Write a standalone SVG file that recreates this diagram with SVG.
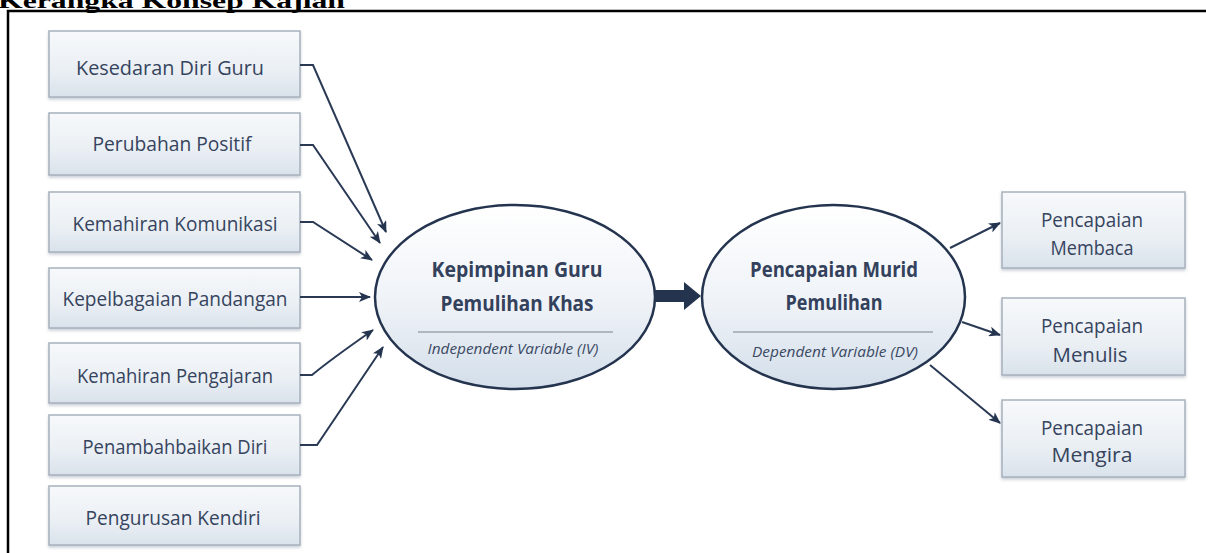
<svg xmlns="http://www.w3.org/2000/svg" width="1206" height="553" viewBox="0 0 1206 553">
<defs>
<linearGradient id="boxg" x1="0" y1="0" x2="0" y2="1">
<stop offset="0" stop-color="#f7f9fb"/>
<stop offset="0.6" stop-color="#eaeff4"/>
<stop offset="1" stop-color="#d9e2eb"/>
</linearGradient>
<linearGradient id="ellg" x1="0" y1="0" x2="0" y2="1">
<stop offset="0" stop-color="#ffffff"/>
<stop offset="0.55" stop-color="#eef2f7"/>
<stop offset="1" stop-color="#d3deea"/>
</linearGradient>
<filter id="sh" x="-10%" y="-10%" width="120%" height="130%">
<feDropShadow dx="0" dy="2" stdDeviation="1.5" flood-color="#8a97a6" flood-opacity="0.45"/>
</filter>
<marker id="ah" viewBox="0 0 12 10" refX="11" refY="5" markerWidth="12" markerHeight="10" markerUnits="userSpaceOnUse" orient="auto">
<path d="M0,0 L12,5 L0,10 L3,5 Z" fill="#24344f"/>
</marker>
</defs>
<style>
.box{fill:url(#boxg);stroke:#a7b1bd;stroke-width:1.5;filter:url(#sh)}
.ell{fill:url(#ellg);stroke:#24344f;stroke-width:2.5}
.lbl{font-family:"Open Sans","Noto Sans",sans-serif;font-size:20px;font-weight:500;fill:#36445e;text-anchor:middle}
.big{font-family:"Open Sans","Noto Sans",sans-serif;font-size:22px;font-weight:bold;fill:#33415c;text-anchor:middle}
.it{font-family:"Open Sans","Noto Sans",sans-serif;font-size:14px;font-style:italic;fill:#3b4963;text-anchor:middle}
.sep{stroke:#a0a6ae;stroke-width:1.5}
.con{fill:none;stroke:#2a3a55;stroke-width:2;marker-end:url(#ah)}
.title{font-family:"Liberation Serif",serif;font-size:22px;font-weight:bold;fill:#000}
</style>
<rect width="1206" height="553" fill="#ffffff"/>
<text class="title" x="-2" y="8" textLength="347" lengthAdjust="spacingAndGlyphs">Kerangka Konsep Kajian</text>
<path d="M8,553 V11 H1206" fill="none" stroke="#000" stroke-width="2.5"/>

<g id="n1"><rect class="box" x="49" y="31" width="251" height="66"/><text class="lbl" x="170" y="75" textLength="188" lengthAdjust="spacingAndGlyphs">Kesedaran Diri Guru</text></g>
<g id="n2"><rect class="box" x="49" y="113" width="251" height="62"/><text class="lbl" x="172" y="151" textLength="159" lengthAdjust="spacingAndGlyphs">Perubahan Positif</text></g>
<g id="n3"><rect class="box" x="49" y="192" width="251" height="60"/><text class="lbl" x="175" y="231" textLength="205" lengthAdjust="spacingAndGlyphs">Kemahiran Komunikasi</text></g>
<g id="n4"><rect class="box" x="49" y="268" width="251" height="60"/><text class="lbl" x="175" y="306" textLength="225" lengthAdjust="spacingAndGlyphs">Kepelbagaian Pandangan</text></g>
<g id="n5"><rect class="box" x="49" y="343" width="251" height="60"/><text class="lbl" x="175" y="383" textLength="196" lengthAdjust="spacingAndGlyphs">Kemahiran Pengajaran</text></g>
<g id="n6"><rect class="box" x="49" y="415" width="251" height="60"/><text class="lbl" x="175" y="454" textLength="185" lengthAdjust="spacingAndGlyphs">Penambahbaikan Diri</text></g>
<g id="n7"><rect class="box" x="49" y="486" width="251" height="59"/><text class="lbl" x="173" y="525" textLength="175" lengthAdjust="spacingAndGlyphs">Pengurusan Kendiri</text></g>

<g id="iv">
<ellipse class="ell" cx="515" cy="297" rx="140" ry="92"/>
<text class="big" x="517" y="277" textLength="171" lengthAdjust="spacingAndGlyphs">Kepimpinan Guru</text>
<text class="big" x="517" y="311" textLength="153" lengthAdjust="spacingAndGlyphs">Pemulihan Khas</text>
<line class="sep" x1="418" y1="332" x2="613" y2="332"/>
<text class="it" x="513" y="354" textLength="171" lengthAdjust="spacingAndGlyphs">Independent Variable (IV)</text>
</g>

<g id="dv">
<ellipse class="ell" cx="833.5" cy="297" rx="131.5" ry="92"/>
<text class="big" x="834" y="277" textLength="168" lengthAdjust="spacingAndGlyphs">Pencapaian Murid</text>
<text class="big" x="834" y="310" textLength="97" lengthAdjust="spacingAndGlyphs">Pemulihan</text>
<line class="sep" x1="733" y1="332" x2="933" y2="332"/>
<text class="it" x="835" y="357" textLength="166" lengthAdjust="spacingAndGlyphs">Dependent Variable (DV)</text>
</g>

<g id="o1"><rect class="box" x="1002" y="192" width="183" height="76"/><text class="lbl" x="1092" y="227" textLength="102" lengthAdjust="spacingAndGlyphs">Pencapaian</text><text class="lbl" x="1092" y="255" textLength="83" lengthAdjust="spacingAndGlyphs">Membaca</text></g>
<g id="o2"><rect class="box" x="1002" y="298" width="183" height="77"/><text class="lbl" x="1092" y="333" textLength="102" lengthAdjust="spacingAndGlyphs">Pencapaian</text><text class="lbl" x="1090" y="362" textLength="75" lengthAdjust="spacingAndGlyphs">Menulis</text></g>
<g id="o3"><rect class="box" x="1002" y="400" width="183" height="77"/><text class="lbl" x="1092" y="435" textLength="102" lengthAdjust="spacingAndGlyphs">Pencapaian</text><text class="lbl" x="1092" y="462" textLength="81" lengthAdjust="spacingAndGlyphs">Mengira</text></g>

<g id="connectors">
<path class="con" d="M300,65 H313 L386,232"/>
<path class="con" d="M300,145 H313 L380,243"/>
<path class="con" d="M300,222 H313 L372,260"/>
<path class="con" d="M300,297 H370"/>
<path class="con" d="M300,375 H312 Q330,360 373,330"/>
<path class="con" d="M300,445 H317 L383,347"/>
<path d="M655,296 H686" stroke="#24344f" stroke-width="12" fill="none"/>
<path d="M684,282 L701,296 L684,310 Z" fill="#24344f"/>
<path class="con" d="M950,248 L1000,223"/>
<path class="con" d="M962,322 L1000,335"/>
<path class="con" d="M930,365 L1000,423"/>
</g>
</svg>
